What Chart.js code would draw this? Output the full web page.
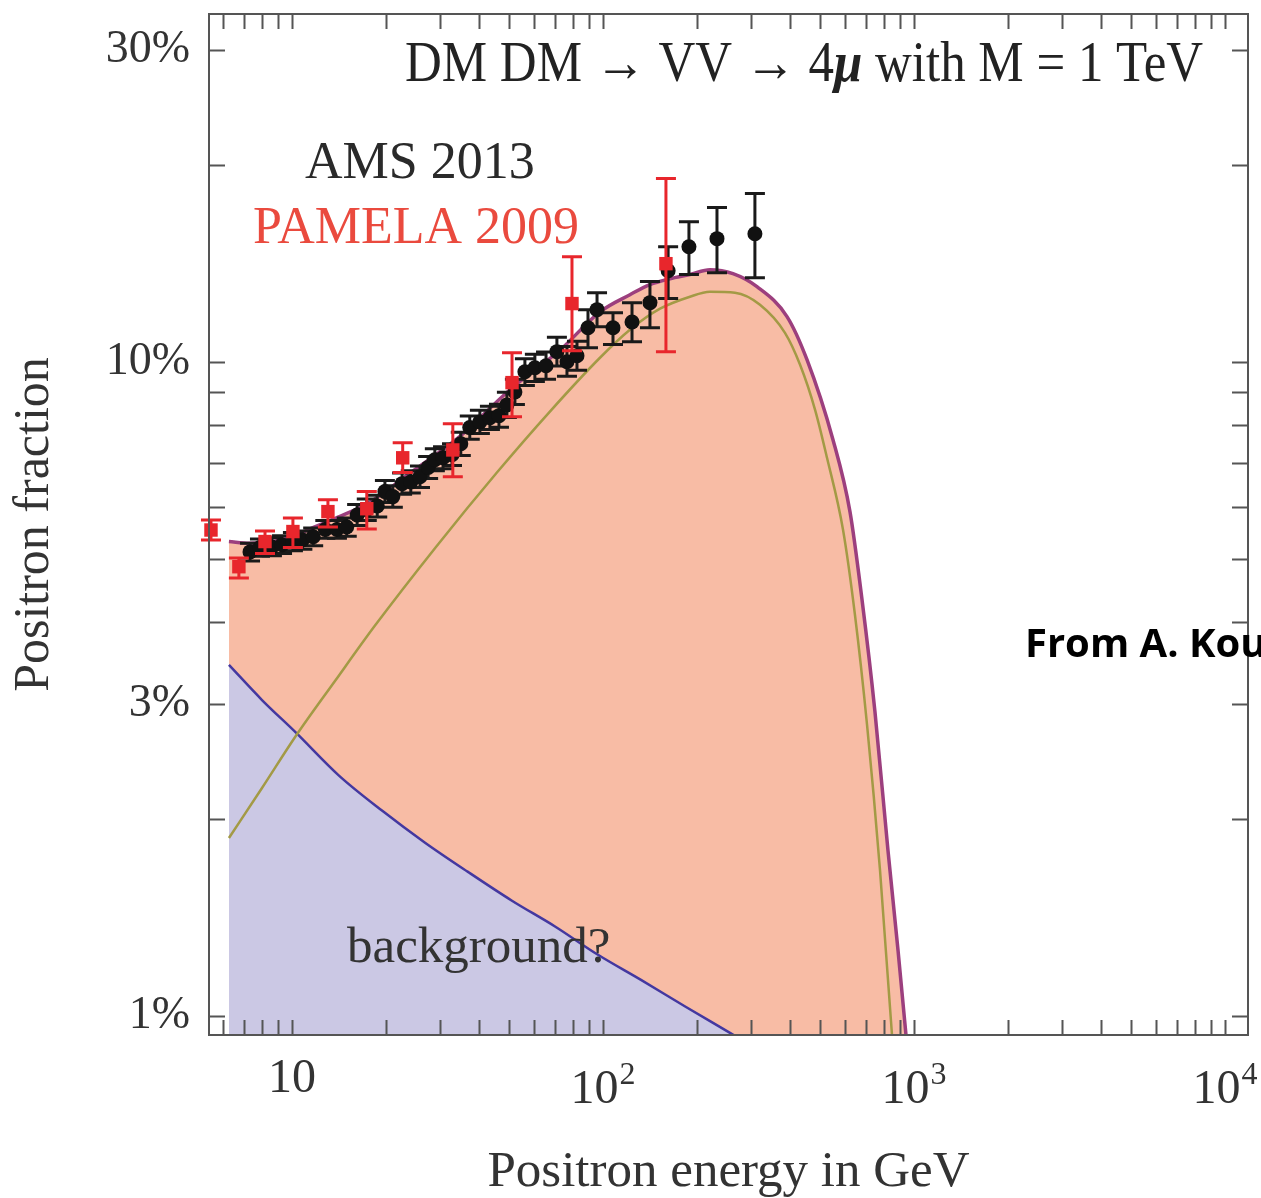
<!DOCTYPE html>
<html>
<head>
<meta charset="utf-8">
<script src="https://cdn.jsdelivr.net/npm/chart.js@4.4.1/dist/chart.umd.min.js"></script>
<style>
  html, body { margin: 0; padding: 0; background: #fff; }
  #wrap { width: 1261px; height: 1198px; }
</style>
</head>
<body>
<div id="wrap"><canvas id="chart" width="1261" height="1198"></canvas></div>
<script>
const SERIF = "'Liberation Serif', 'Times New Roman', serif";
Chart.defaults.font.family = SERIF;

// AMS 2013 : energia (GeV), fraccion (%), barras de error
const amsEnergy = [7.33, 7.89, 8.62, 9.29, 10.07, 10.8, 11.7, 12.8, 13.95, 15.0, 16.2, 17.4, 18.8, 19.9, 21.1, 22.6, 24.1, 25.8, 27.4, 28.8, 30.6, 32.7, 34.9, 37.3, 40.2, 43.3, 46.3, 49.1, 52.1, 56.1, 60.4, 65.6, 71.1, 76.6, 82.5, 89.5, 95.7, 107.7, 124, 141.6, 162, 189, 232.6, 308];
const amsFrac   = [5.12, 5.20, 5.21, 5.25, 5.31, 5.34, 5.40, 5.54, 5.54, 5.59, 5.83, 5.94, 6.02, 6.33, 6.22, 6.51, 6.55, 6.67, 6.89, 7.08, 7.13, 7.21, 7.49, 7.93, 8.09, 8.21, 8.27, 8.59, 8.99, 9.65, 9.79, 9.86, 10.36, 10.0, 10.21, 11.27, 12.01, 11.27, 11.5, 12.31, 13.77, 14.99, 15.42, 15.69];
const amsLow    = [4.96, 5.04, 5.05, 5.09, 5.14, 5.17, 5.23, 5.37, 5.37, 5.41, 5.62, 5.72, 5.79, 6.09, 5.99, 6.27, 6.30, 6.42, 6.63, 6.81, 6.86, 6.94, 7.19, 7.61, 7.77, 7.88, 7.94, 8.22, 8.60, 9.20, 9.33, 9.40, 9.85, 9.50, 9.70, 10.50, 11.31, 10.62, 10.73, 11.27, 12.49, 13.59, 13.68, 13.44];
const amsHigh   = [5.28, 5.36, 5.38, 5.42, 5.48, 5.51, 5.57, 5.72, 5.72, 5.77, 6.05, 6.17, 6.25, 6.58, 6.46, 6.76, 6.81, 6.93, 7.16, 7.36, 7.41, 7.49, 7.80, 8.26, 8.43, 8.55, 8.61, 8.98, 9.40, 10.1, 10.27, 10.35, 10.9, 10.55, 10.75, 12.01, 12.75, 11.88, 12.31, 13.26, 14.99, 16.37, 17.2, 18.07];

// PAMELA 2009
const pamEnergy = [5.49, 6.75, 8.19, 10.07, 13.05, 17.4, 22.7, 32.9, 51.0, 79.5, 159.4];
const pamFrac   = [5.53, 4.86, 5.31, 5.50, 5.90, 5.96, 7.13, 7.33, 9.29, 12.27, 14.12];
const pamLow    = [5.34, 4.67, 5.09, 5.20, 5.59, 5.55, 6.77, 6.67, 8.24, 10.39, 10.36];
const pamHigh   = [5.73, 5.01, 5.51, 5.77, 6.15, 6.33, 7.52, 8.04, 10.32, 14.47, 19.05];

// curvas del modelo
const totalEnergy = [6.27, 7.3, 8.5, 10.07, 11.4, 14.0, 17.8, 24.0, 34.6, 50.2, 72.5, 97.8, 122.1, 141.6, 164.2, 190.4, 220.8, 261.8, 312.7, 390.6, 452.9, 549, 622.6, 680.6, 749, 825, 888.6, 942.6, 971];
const totalFrac   = [5.31, 5.28, 5.30, 5.40, 5.55, 5.78, 6.10, 6.76, 7.68, 9.06, 10.4, 11.92, 12.66, 13.12, 13.39, 13.59, 13.82, 13.63, 13.02, 11.72, 10.07, 7.60, 5.90, 4.33, 2.92, 1.79, 1.26, 0.935, 0.80];
const dmEnergy = [6.27, 8.01, 10.3, 13.75, 18.49, 29.04, 45.6, 67.5, 97.8, 122.1, 152.6, 190.4, 220.8, 265.7, 319.8, 384.8, 430, 480.6, 525.3, 591.2, 646.1, 706.3, 777.7, 850, 875.3];
const dmFrac   = [1.87, 2.23, 2.68, 3.25, 3.95, 5.21, 6.77, 8.39, 10.14, 11.19, 12.05, 12.57, 12.79, 12.75, 12.22, 11.07, 9.90, 8.45, 7.13, 5.54, 4.10, 2.79, 1.67, 0.935, 0.80];
const bkgEnergy = [6.27, 8.01, 10.3, 14.16, 19.47, 26.78, 36.81, 50.97, 70.11, 96.36, 132.5, 184.9, 256.1, 344.4];
const bkgFrac   = [3.44, 3.04, 2.71, 2.33, 2.06, 1.84, 1.66, 1.50, 1.37, 1.24, 1.135, 1.032, 0.942, 0.866];

// ejes
const xMajor = [10, 100, 1000, 10000];
const xMajorExp = ['', '2', '3', '4'];
const xMarks = [6, 7, 8, 9, 10, 20, 30, 40, 50, 60, 70, 80, 90, 100, 200, 300, 400, 500, 600, 700, 800, 900, 1000, 2000, 3000, 4000, 5000, 6000, 7000, 8000, 9000, 10000];
const yTicks = [1, 3, 10, 30];
const yTickLabels = ['1%', '3%', '10%', '30%'];
const yMarks = [1, 2, 3, 4, 5, 6, 7, 8, 9, 10, 20, 30];

const COL = { salmon: '#f8bca5', lila: '#cbc8e4', total: '#9c3f7e', dm: '#a39a45', bkg: '#4438a0', ams: '#111111', pam: '#e8262c', axis: '#555555', txt: '#333333' };

const pts = (xs, ys) => xs.map((v, i) => ({ x: v, y: ys[i] }));

const errorBars = {
  id: 'errorBars',
  beforeDatasetDraw(chart, args) {
    const ds = chart.data.datasets[args.index];
    if (!ds.errLow) return;
    const { ctx, scales: { x, y } } = chart;
    ctx.save();
    ctx.strokeStyle = ds.errColor;
    ctx.lineWidth = 3;
    ds.data.forEach((p, i) => {
      const px = x.getPixelForValue(p.x);
      const lo = y.getPixelForValue(ds.errLow[i]);
      const hi = y.getPixelForValue(ds.errHigh[i]);
      const c = ds.capWidth;
      ctx.beginPath();
      ctx.moveTo(px, lo); ctx.lineTo(px, hi);
      ctx.moveTo(px - c, lo); ctx.lineTo(px + c, lo);
      ctx.moveTo(px - c, hi); ctx.lineTo(px + c, hi);
      ctx.stroke();
    });
    ctx.restore();
  }
};

const frame = {
  id: 'frame',
  afterDatasetsDraw(chart) {
    const { ctx, chartArea: a, scales: { x, y } } = chart;
    ctx.save();
    ctx.strokeStyle = COL.axis;
    ctx.lineWidth = 2;
    ctx.strokeRect(a.left, a.top, a.right - a.left, a.bottom - a.top);
    ctx.beginPath();
    xMarks.forEach(v => {
      const px = Math.round(x.getPixelForValue(v)) + 0.5;
      if (px < a.left || px > a.right) return;
      ctx.moveTo(px, a.bottom); ctx.lineTo(px, a.bottom - 15);
      ctx.moveTo(px, a.top); ctx.lineTo(px, a.top + 15);
    });
    yMarks.forEach(v => {
      const py = Math.round(y.getPixelForValue(v)) + 0.5;
      ctx.moveTo(a.left, py); ctx.lineTo(a.left + 16, py);
      ctx.moveTo(a.right, py); ctx.lineTo(a.right - 16, py);
    });
    ctx.stroke();

    // etiquetas del eje x con exponente
    ctx.fillStyle = COL.txt;
    ctx.textBaseline = 'alphabetic';
    ctx.textAlign = 'left';
    xMajor.forEach((v, i) => {
      const px = x.getPixelForValue(v);
      const exp = xMajorExp[i];
      ctx.font = '48px ' + SERIF;
      const wb = ctx.measureText('10').width;
      ctx.font = '32px ' + SERIF;
      const we = exp ? ctx.measureText(exp).width + 1 : 0;
      const x0 = px - (wb + we) / 2;
      const base = exp ? 1103 : 1092;
      ctx.font = '48px ' + SERIF;
      ctx.fillText('10', x0, base);
      if (exp) {
        ctx.font = '32px ' + SERIF;
        ctx.fillText(exp, x0 + wb + 1, 1084);
      }
    });
    ctx.restore();
  },
  afterDraw(chart) {
    const { ctx } = chart;
    ctx.save();
    ctx.textAlign = 'left';
    ctx.textBaseline = 'alphabetic';
    // titulo (letra algo condensada)
    ctx.fillStyle = '#222';
    ctx.save();
    ctx.translate(405, 81);
    ctx.scale(0.91, 1);
    let tx = 0;
    const parts = [
      ['DM DM \u2192 VV \u2192 4', '56px ' + SERIF],
      ['\u03bc', 'italic bold 56px ' + SERIF],
      [' with M = 1 TeV', '56px ' + SERIF]
    ];
    parts.forEach(([t, f]) => { ctx.font = f; ctx.fillText(t, tx, 0); tx += ctx.measureText(t).width; });
    ctx.restore();

    ctx.font = '52px ' + SERIF;
    ctx.fillStyle = '#2a2a2a';
    ctx.fillText('AMS 2013', 305, 178);
    ctx.fillStyle = '#ea4a3e';
    ctx.fillText('PAMELA 2009', 253, 243);

    ctx.font = '51px ' + SERIF;
    ctx.fillStyle = '#333';
    ctx.fillText('background?', 347, 962);

    ctx.font = "bold 40px 'Open Sans', sans-serif";
    ctx.fillStyle = '#000';
    ctx.fillText('From A. Kou', 1025, 657);
    ctx.restore();
  }
};

const curve = { pointRadius: 0, cubicInterpolationMode: 'monotone' };

const datasets = [
  { label: 'PAMELA 2009', data: pts(pamEnergy, pamFrac), showLine: false, pointStyle: 'rect', pointRadius: 9.5, pointHoverRadius: 9.5,
    backgroundColor: COL.pam, borderWidth: 0, errLow: pamLow, errHigh: pamHigh, errColor: COL.pam, capWidth: 10, clip: false },
  { label: 'AMS 2013', data: pts(amsEnergy, amsFrac), showLine: false, pointStyle: 'circle', pointRadius: 7.5, pointHoverRadius: 7.5,
    backgroundColor: COL.ams, borderWidth: 0, errLow: amsLow, errHigh: amsHigh, errColor: '#1a1a1a', capWidth: 10 },
  { label: 'DM', data: pts(dmEnergy, dmFrac), borderColor: COL.dm, borderWidth: 2.5, fill: false, ...curve },
  { label: 'background', data: pts(bkgEnergy, bkgFrac), borderColor: COL.bkg, borderWidth: 2.5,
    fill: 'start', backgroundColor: COL.lila, ...curve },
  { label: 'total', data: pts(totalEnergy, totalFrac), borderColor: COL.total, borderWidth: 3.5,
    fill: 'start', backgroundColor: COL.salmon, ...curve }
];

new Chart(document.getElementById('chart'), {
  type: 'line',
  data: { datasets },
  options: {
    responsive: false,
    animation: false,
    devicePixelRatio: 1,
    events: [],
    layout: { padding: { top: 14, right: 13, left: 0, bottom: 0 } },
    plugins: { legend: { display: false }, tooltip: { enabled: false } },
    scales: {
      x: {
        type: 'logarithmic', min: 5.41, max: 11860,
        grid: { display: false, drawTicks: false }, border: { display: false },
        ticks: { display: false },
        afterBuildTicks: s => { s.ticks = xMajor.map(v => ({ value: v })); },
        afterFit: s => { s.height = 163; s.paddingLeft = 0; s.paddingRight = 0; },
        title: { display: true, text: 'Positron energy in GeV', color: COL.txt, font: { size: 51, lineHeight: 1 }, padding: { top: 0, bottom: 0 } }
      },
      y: {
        type: 'logarithmic', min: 0.935, max: 34,
        grid: { display: false, drawTicks: false }, border: { display: false },
        afterBuildTicks: s => { s.ticks = yTicks.map(v => ({ value: v })); },
        ticks: { color: COL.txt, font: { size: 46 }, padding: 19, callback: (v) => yTickLabels[yTicks.indexOf(v)] },
        afterFit: s => { s.width = 209; s.paddingTop = 0; s.paddingBottom = 0; },
        title: { display: true, text: 'Positron fraction', color: COL.txt, font: { size: 50, lineHeight: 1 }, padding: { top: 10, bottom: 0 } }
      }
    }
  },
  plugins: [errorBars, frame]
});
</script>
</body>
</html>
